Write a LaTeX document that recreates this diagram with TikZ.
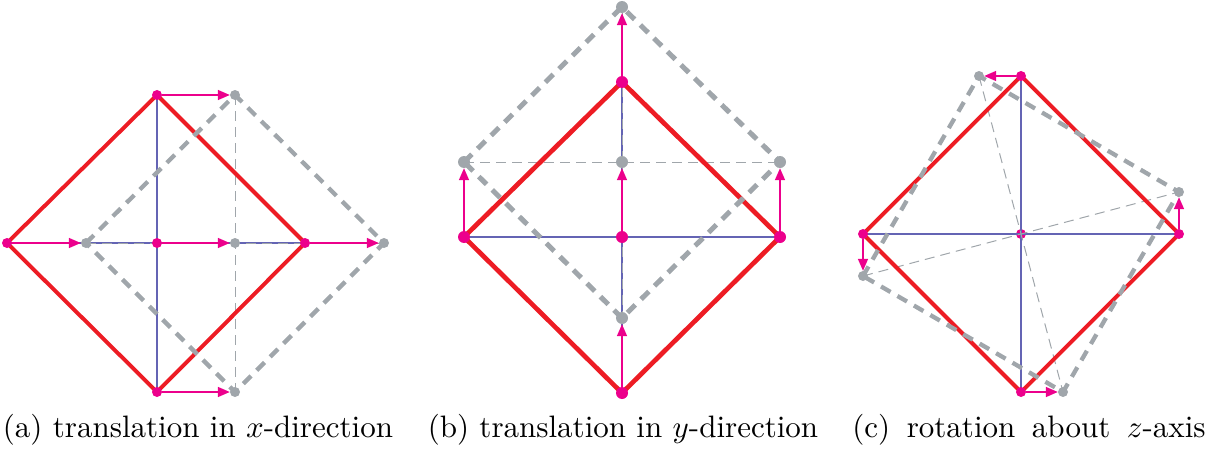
\documentclass[tikz,border=0pt]{standalone}
\usepackage{graphicx}
\usetikzlibrary{arrows.meta}
\definecolor{dred}{RGB}{237,28,36}
\definecolor{dmag}{RGB}{236,0,140}
\definecolor{dgray}{RGB}{160,166,171}
\definecolor{dblue}{RGB}{100,100,180}
\begin{document}
\begin{tikzpicture}[x=1pt,y=-1pt,
 rdot/.style={circle,fill=dmag,inner sep=0pt,minimum size=10pt},
 gdot/.style={circle,fill=dgray,inner sep=0pt,minimum size=10pt},
 redline/.style={draw=dred,line width=3.9pt,line join=miter},
 gdash/.style={draw=dgray,line width=4.3pt,dash pattern=on 11pt off 8pt},
 gthin/.style={draw=dgray,line width=1pt,dash pattern=on 10pt off 6pt},
 bline/.style={draw=dblue,line width=1.3pt},
 marr/.style={draw=dmag,line width=1.6pt,-{Triangle[length=12pt,width=10pt]}},
 captxt/.style={inner sep=0pt,anchor=base}
]
\useasboundingbox (0,0) rectangle (1208,452);

% ---------------- panel (a)
\coordinate (aL) at (7,243);   \coordinate (aT) at (157,95);
\coordinate (aR) at (305,243); \coordinate (aB) at (157,392);
\coordinate (aC) at (157,243);
\coordinate (agL) at (86,243);  \coordinate (agT) at (235,95);
\coordinate (agR) at (384,243); \coordinate (agB) at (235,392);
\coordinate (agC) at (235,243);
\draw[bline] (aL) -- (aR);
\draw[bline] (aT) -- (aB);
\draw[gthin] (agT) -- (agB);
\draw[gthin] (agL) -- (agR);
\draw[redline] (aL) -- (aT) -- (aR) -- (aB) -- cycle;
\draw[gdash] (agL) -- (agT) -- (agR) -- (agB) -- cycle;
\foreach \p in {L,T,R,B,C}{
  \node[rdot] (da\p) at (a\p) {};
  \node[gdot] (dag\p) at (ag\p) {};
}
\foreach \p in {L,T,R,B,C}{
  \draw[marr] (da\p) -- (dag\p);
}

% ---------------- panel (b)
\coordinate (bL) at (464,237); \coordinate (bT) at (622,82);
\coordinate (bR) at (780,237); \coordinate (bB) at (622,393);
\coordinate (bC) at (622,237);
\coordinate (bgL) at (464,162); \coordinate (bgT) at (622,7);
\coordinate (bgR) at (780,162); \coordinate (bgB) at (622,318);
\coordinate (bgC) at (622,162);
\draw[bline] (bL) -- (bR);
\draw[bline] (bT) -- (bB);
\draw[gthin] (bgL) -- (bgR);
\draw[gthin] (bgT) -- (bgB);
\draw[redline,line width=4.7pt] (bL) -- (bT) -- (bR) -- (bB) -- cycle;
\draw[gdash,line width=5pt] (bgL) -- (bgT) -- (bgR) -- (bgB) -- cycle;
\foreach \p in {L,T,R,B,C}{
  \node[rdot,minimum size=12pt] (db\p) at (b\p) {};
  \node[gdot,minimum size=12pt] (dbg\p) at (bg\p) {};
}
\foreach \p in {L,T,R,B,C}{
  \draw[marr] (db\p) -- (dbg\p);
}

% ---------------- panel (c)
\coordinate (cL) at (863,234);  \coordinate (cT) at (1021,76);
\coordinate (cR) at (1179,234); \coordinate (cB) at (1021,392);
\coordinate (cC) at (1021,234);
\coordinate (cgL) at (863,276);  \coordinate (cgT) at (979,76);
\coordinate (cgR) at (1179,192); \coordinate (cgB) at (1063,392);
\node[rdot] (dcC) at (cC) {};
\draw[bline] (cL) -- (cR);
\draw[bline] (cT) -- (cB);
\draw[gthin] (cgT) -- (cgB);
\draw[gthin] (cgL) -- (cgR);
\draw[redline] (cL) -- (cT) -- (cR) -- (cB) -- cycle;
\draw[gdash] (cgL) -- (cgT) -- (cgR) -- (cgB) -- cycle;
\foreach \p in {L,T,R,B}{
  \node[rdot] (dc\p) at (c\p) {};
  \node[gdot] (dcg\p) at (cg\p) {};
}
\foreach \p in {L,T,R,B}{
  \draw[marr] (dc\p) -- (dcg\p);
}

% ---------------- captions
\node[captxt] (capa) at (198,437) {\scalebox{3.1}{(a) translation in $x$-direction}};
\node[captxt] (capb) at (623,437) {\scalebox{3.1}{(b) translation in $y$-direction}};
\node[captxt] (capc) at (1029,437) {\scalebox{3.1}{(c)\hspace{2pt} rotation\hspace{2pt} about\hspace{2pt} $z$-axis}};
\end{tikzpicture}
\end{document}
